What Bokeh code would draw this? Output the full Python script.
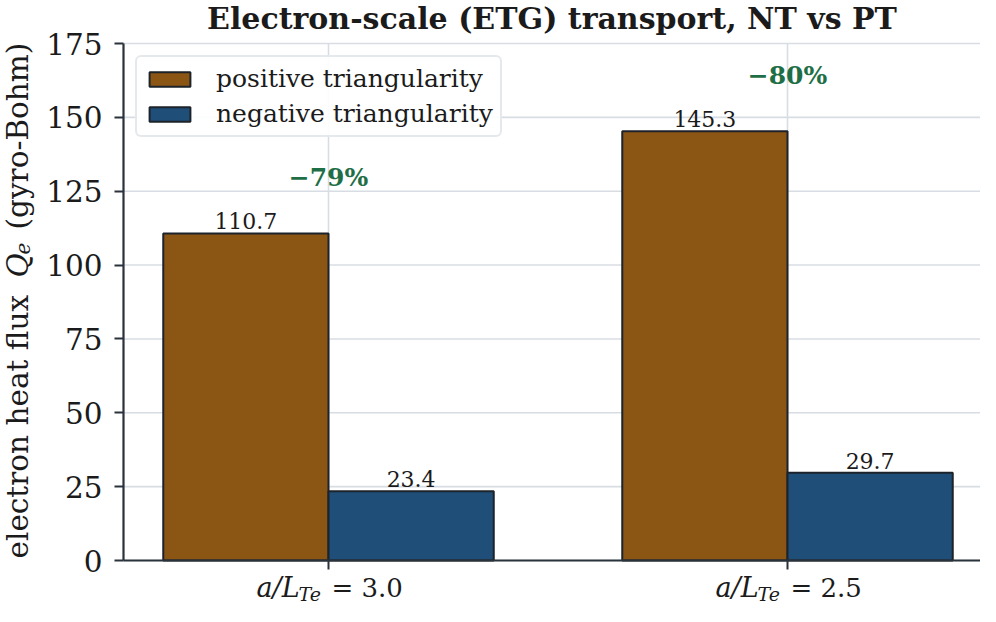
import numpy as np
from bokeh.plotting import figure
from bokeh.models import (ColumnDataSource, Label, LabelSet, Legend, LegendItem,
                          FixedTicker, Range1d)
from bokeh.core.properties import value
from bokeh.embed import file_html
from bokeh.resources import INLINE

# ---- data ----
drive_values = ["3.0", "2.5"]
pt_flux = [110.7, 145.3]
nt_flux = [23.4, 29.7]
series_names = ["positive triangularity", "negative triangularity"]
y_ticks = [0, 25, 50, 75, 100, 125, 150, 175]
y_top = 175
title_text = "Electron-scale (ETG) transport, NT vs PT"

# ---- styles / layout (pixels) ----
PT_COLOR = "#8B5514"
NT_COLOR = "#1F4E79"
EDGE = "#1d232a"
SPINE = "#2a323b"
GRID = "#d8dde3"
TXT = "#1b1b1b"
GREEN = "#1e6e46"
FONT = "DejaVu Serif"

W, H = 980, 606
TOP_PX = 43             # canvas y of the value y_top
Y0_PX = 560             # canvas y of the value 0
AXIS_X_PX = 123         # canvas x of the left spine
CAT0_PX, CAT_STEP_PX = 328, 459

x = np.arange(len(pt_flux), dtype=float)
half = 0.18
reduction = [round(100 * (n - p) / p) for p, n in zip(pt_flux, nt_flux)]

# ranges chosen so that the frame covers the whole canvas
ppu = (Y0_PX - TOP_PX) / y_top
y_min = -(H - Y0_PX) / ppu
y_max = y_top + TOP_PX / ppu
x_min = -CAT0_PX / CAT_STEP_PX
x_max = (W - CAT0_PX) / CAT_STEP_PX
x_axis_loc = (AXIS_X_PX - CAT0_PX) / CAT_STEP_PX

src = ColumnDataSource(dict(
    xc=x, x_pt=x - half, x_nt=x + half,
    pt=pt_flux, nt=nt_flux,
    pt_lab=[f"{v:.1f}" for v in pt_flux],
    nt_lab=[f"{v:.1f}" for v in nt_flux],
    red_lab=[f"\u2212{abs(r)}%" for r in reduction],
))

p = figure(width=W, height=H,
           x_range=Range1d(x_min, x_max), y_range=Range1d(y_min, y_max),
           output_backend="svg", toolbar_location=None,
           min_border_left=0, min_border_right=0,
           min_border_top=0, min_border_bottom=0)
p.outline_line_color = None
p.background_fill_color = "white"
p.border_fill_color = "white"
p.grid.visible = False
p.title.text = ""
p.title.visible = False

# axes placed inside the frame at fixed locations
for ax in (p.xaxis[0], p.yaxis[0]):
    ax.axis_line_color = SPINE
    ax.axis_line_width = 2.2
    ax.major_tick_line_color = SPINE
    ax.major_tick_line_width = 2
    ax.major_tick_out = 9
    ax.major_tick_in = 0
    ax.minor_tick_line_color = None
    ax.major_label_text_font = FONT
    ax.major_label_text_color = TXT

p.yaxis.ticker = FixedTicker(ticks=y_ticks)
p.yaxis.fixed_location = x_axis_loc
p.yaxis.bounds = (0, y_top)
p.yaxis.major_label_text_font_size = "29.5px"
p.yaxis.major_label_standoff = 12

p.xaxis.ticker = FixedTicker(ticks=list(x))
p.xaxis.fixed_location = 0
p.xaxis.bounds = (x_axis_loc, x_max)
p.xaxis.major_label_overrides = {float(v): "" for v in x}
p.xaxis.major_label_text_font_size = "1px"

# grid lines (within the axes' extent)
p.segment(x0=[x_axis_loc] * len(y_ticks), x1=[x_max] * len(y_ticks),
          y0=y_ticks, y1=y_ticks, line_color=GRID, line_width=1.6,
          level="underlay")
p.segment(x0=list(x), x1=list(x), y0=[0] * len(x), y1=[y_top] * len(x),
          line_color=GRID, line_width=1.6, level="underlay")

# bars
r_pt = p.vbar(x="x_pt", top="pt", bottom=0, width=2 * half, source=src,
              fill_color=PT_COLOR, line_color=EDGE, line_width=2)
r_nt = p.vbar(x="x_nt", top="nt", bottom=0, width=2 * half, source=src,
              fill_color=NT_COLOR, line_color=EDGE, line_width=2)

# title
p.add_layout(Label(x=(x_axis_loc + x_max) / 2, y=y_top, y_offset=25,
                   text=title_text, text_font=FONT, text_font_style="bold",
                   text_font_size="30px", text_color=TXT,
                   text_align="center", text_baseline="middle"))

# value labels
for xs, ys, ts in (("x_pt", "pt", "pt_lab"), ("x_nt", "nt", "nt_lab")):
    p.add_layout(LabelSet(x=xs, y=ys, text=ts, source=src,
                          text_align="center", text_baseline="bottom",
                          y_offset=4, text_font=value(FONT),
                          text_font_size=value("22px"), text_color=TXT))

# reduction annotations
p.add_layout(LabelSet(x="xc", y="pt", text="red_lab", source=src,
                      text_align="center", text_baseline="middle",
                      y_offset=56, text_font=value(FONT),
                      text_font_style=value("bold"),
                      text_font_size=value("25px"), text_color=GREEN))

# x tick labels  a/L_Te = value
for xi, dv in zip(x, drive_values):
    p.add_layout(Label(x=xi, y=0, x_offset=-72, y_offset=-27, text="a/L",
                       text_font=FONT, text_font_style="italic",
                       text_font_size="27px", text_color=TXT,
                       text_align="left", text_baseline="alphabetic"))
    p.add_layout(Label(x=xi, y=0, x_offset=-30, y_offset=-33, text="Te",
                       text_font=FONT, text_font_style="italic",
                       text_font_size="19px", text_color=TXT,
                       text_align="left", text_baseline="alphabetic"))
    p.add_layout(Label(x=xi, y=0, x_offset=3, y_offset=-27, text="= " + dv,
                       text_font=FONT, text_font_size="26px", text_color=TXT,
                       text_align="left", text_baseline="alphabetic"))

# y axis label (rotated pieces)
ang = np.pi / 2
ylab_parts = [("electron heat flux", 0, 2, "normal", "29.5px"),
              ("Q", 0, 283, "italic", "29.5px"),
              ("e", 5, 306, "italic", "20px"),
              ("(gyro-Bohm)", 0, 331, "normal", "29.5px")]
for txt, dx, dy, style, size in ylab_parts:
    p.add_layout(Label(x=x_axis_loc, y=0, x_offset=-106 + dx, y_offset=dy,
                       text=txt, angle=ang, text_font=FONT,
                       text_font_style=style, text_font_size=size,
                       text_color=TXT, text_align="left",
                       text_baseline="alphabetic"))

# legend (location = bottom-left corner, pixels from the canvas bottom-left)
legend = Legend(items=[LegendItem(label=series_names[0], renderers=[r_pt]),
                       LegendItem(label=series_names[1], renderers=[r_nt])],
                location=(135, H - 137))
legend.label_text_font = FONT
legend.label_text_font_size = "25px"
legend.label_text_color = TXT
legend.glyph_width = 51
legend.glyph_height = 18
legend.label_standoff = 21
legend.padding = 7
legend.spacing = 6
legend.margin = 0
legend.border_line_color = "#cdd3da"
legend.border_line_width = 2
legend.background_fill_alpha = 0.9
if "border_radius" in Legend.properties():
    legend.border_radius = 6
p.add_layout(legend)

open("out.html", "w").write(file_html(p, INLINE))
